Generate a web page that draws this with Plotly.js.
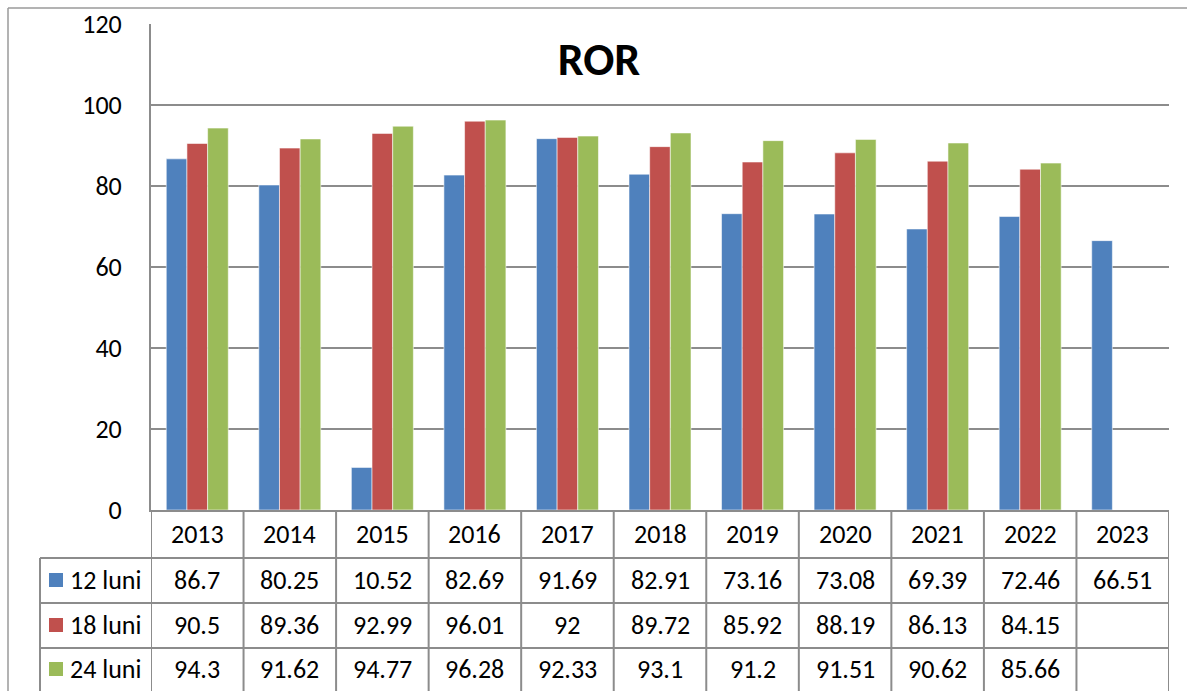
<!DOCTYPE html>
<html>
<head>
<meta charset="utf-8">
<script src="https://cdn.plot.ly/plotly-3.0.1.min.js"></script>
<style>html,body{margin:0;padding:0;background:#fff;}#chart{width:1187px;height:691px;}</style>
</head>
<body>
<div id="chart"></div>
<script>
const years = ['2013','2014','2015','2016','2017','2018','2019','2020','2021','2022','2023'];
const seriesNames = ['12 luni','18 luni','24 luni'];
const luni12 = [86.7, 80.25, 10.52, 82.69, 91.69, 82.91, 73.16, 73.08, 69.39, 72.46, 66.51];
const luni18 = [90.5, 89.36, 92.99, 96.01, 92, 89.72, 85.92, 88.19, 86.13, 84.15, null];
const luni24 = [94.3, 91.62, 94.77, 96.28, 92.33, 93.1, 91.2, 91.51, 90.62, 85.66, null];
const colors = ['#4F81BD', '#C0504D', '#9BBB59'];
const allSeries = [luni12, luni18, luni24];

const W = 1187, H = 691;
const L = 151, R = 1169, T = 24, B = 510;
const pw = R - L, ph = B - T;
const px = x => (x - L) / pw;   // pixel -> paper x
const py = y => (B - y) / ph;   // pixel -> paper y

const FONT = 'Carlito, Lato, "Liberation Sans", sans-serif';
const TXT = 26;
const gridColor = '#8c8c8c';

const traces = allSeries.map((vals, i) => ({
  type: 'bar', name: seriesNames[i], x: years, y: vals,
  marker: {color: colors[i], line: {color: 'rgba(255,255,255,0.55)', width: 1}},
  hoverinfo: 'x+y+name'
}));

const shapes = [];
const annotations = [];
const lineStyle = {color: gridColor, width: 2};

// outer chart border (top and left)
shapes.push({type:'line', xref:'paper', yref:'paper', x0: px(8), x1: px(W+5), y0: py(8), y1: py(8), line:{color:'#9a9a9a', width:1.5}});
shapes.push({type:'line', xref:'paper', yref:'paper', x0: px(8), x1: px(8), y0: py(8), y1: py(H+5), line:{color:'#9a9a9a', width:1.5}});

// table rows boundaries (pixel y)
const rowY = [B, 558, 603, 648, H + 5];
shapes.push({type:'line', xref:'paper', yref:'paper', x0: px(40), x1: 1, y0: py(rowY[1]), y1: py(rowY[1]), line: lineStyle});
shapes.push({type:'line', xref:'paper', yref:'paper', x0: px(40), x1: 1, y0: py(rowY[2]), y1: py(rowY[2]), line: lineStyle});
shapes.push({type:'line', xref:'paper', yref:'paper', x0: px(40), x1: 1, y0: py(rowY[3]), y1: py(rowY[3]), line: lineStyle});
shapes.push({type:'line', xref:'paper', yref:'paper', x0: px(40), x1: px(40), y0: py(rowY[1]), y1: py(rowY[4]), line: lineStyle});
for (let i = 0; i <= years.length; i++) {
  shapes.push({type:'line', xref:'x', yref:'paper', x0: i - 0.5, x1: i - 0.5, y0: py(B), y1: py(rowY[4]), line: lineStyle});
}

// header (years)
years.forEach((yr, i) => {
  annotations.push({xref:'x', yref:'paper', x: i, y: py((rowY[0] + rowY[1]) / 2), text: yr, showarrow:false,
    font:{family: FONT, size: TXT, color:'#000'}, xanchor:'center', yanchor:'middle'});
});
// rows
const rowMid = [580, 625, 669];
allSeries.forEach((vals, r) => {
  const yMid = rowMid[r];
  shapes.push({type:'rect', xref:'paper', yref:'paper', x0: px(49), x1: px(63), y0: py(yMid - 7), y1: py(yMid + 7),
    fillcolor: colors[r], line:{width:0}});
  annotations.push({xref:'paper', yref:'paper', x: px(68), y: py(yMid), text: seriesNames[r], showarrow:false,
    font:{family: FONT, size: TXT, color:'#000'}, xanchor:'left', yanchor:'middle'});
  vals.forEach((v, i) => {
    if (v === null) return;
    annotations.push({xref:'x', yref:'paper', x: i, y: py(yMid), text: String(v), showarrow:false,
      font:{family: FONT, size: TXT, color:'#000'}, xanchor:'center', yanchor:'middle'});
  });
});

const layout = {
  width: W, height: H,
  margin: {l: L, r: W - R, t: T, b: H - B, pad: 0},
  paper_bgcolor: '#fff', plot_bgcolor: '#fff',
  barmode: 'group', bargap: 0.33, bargroupgap: 0,
  showlegend: false,
  title: {text: '<b>ROR</b>', x: 599 / W, xref: 'container', xanchor: 'center', y: 1 - 59 / H, yref: 'container', yanchor: 'middle',
    font: {family: FONT, size: 46, color: '#000'}},
  xaxis: {type: 'category', range: [-0.5, 10.5], showticklabels: false, ticks: '', showgrid: false,
    showline: true, linecolor: gridColor, linewidth: 2, zeroline: false, fixedrange: true},
  yaxis: {range: [0, 120], dtick: 20, tick0: 0, showgrid: true, gridcolor: gridColor, gridwidth: 2,
    showline: true, linecolor: gridColor, linewidth: 2, zeroline: false, ticks: '', ticklabelstandoff: 22,
    tickfont: {family: FONT, size: TXT, color: '#000'}, fixedrange: true},
  shapes: shapes,
  annotations: annotations
};

Plotly.newPlot('chart', traces, layout, {displayModeBar: false});
</script>
</body>
</html>
